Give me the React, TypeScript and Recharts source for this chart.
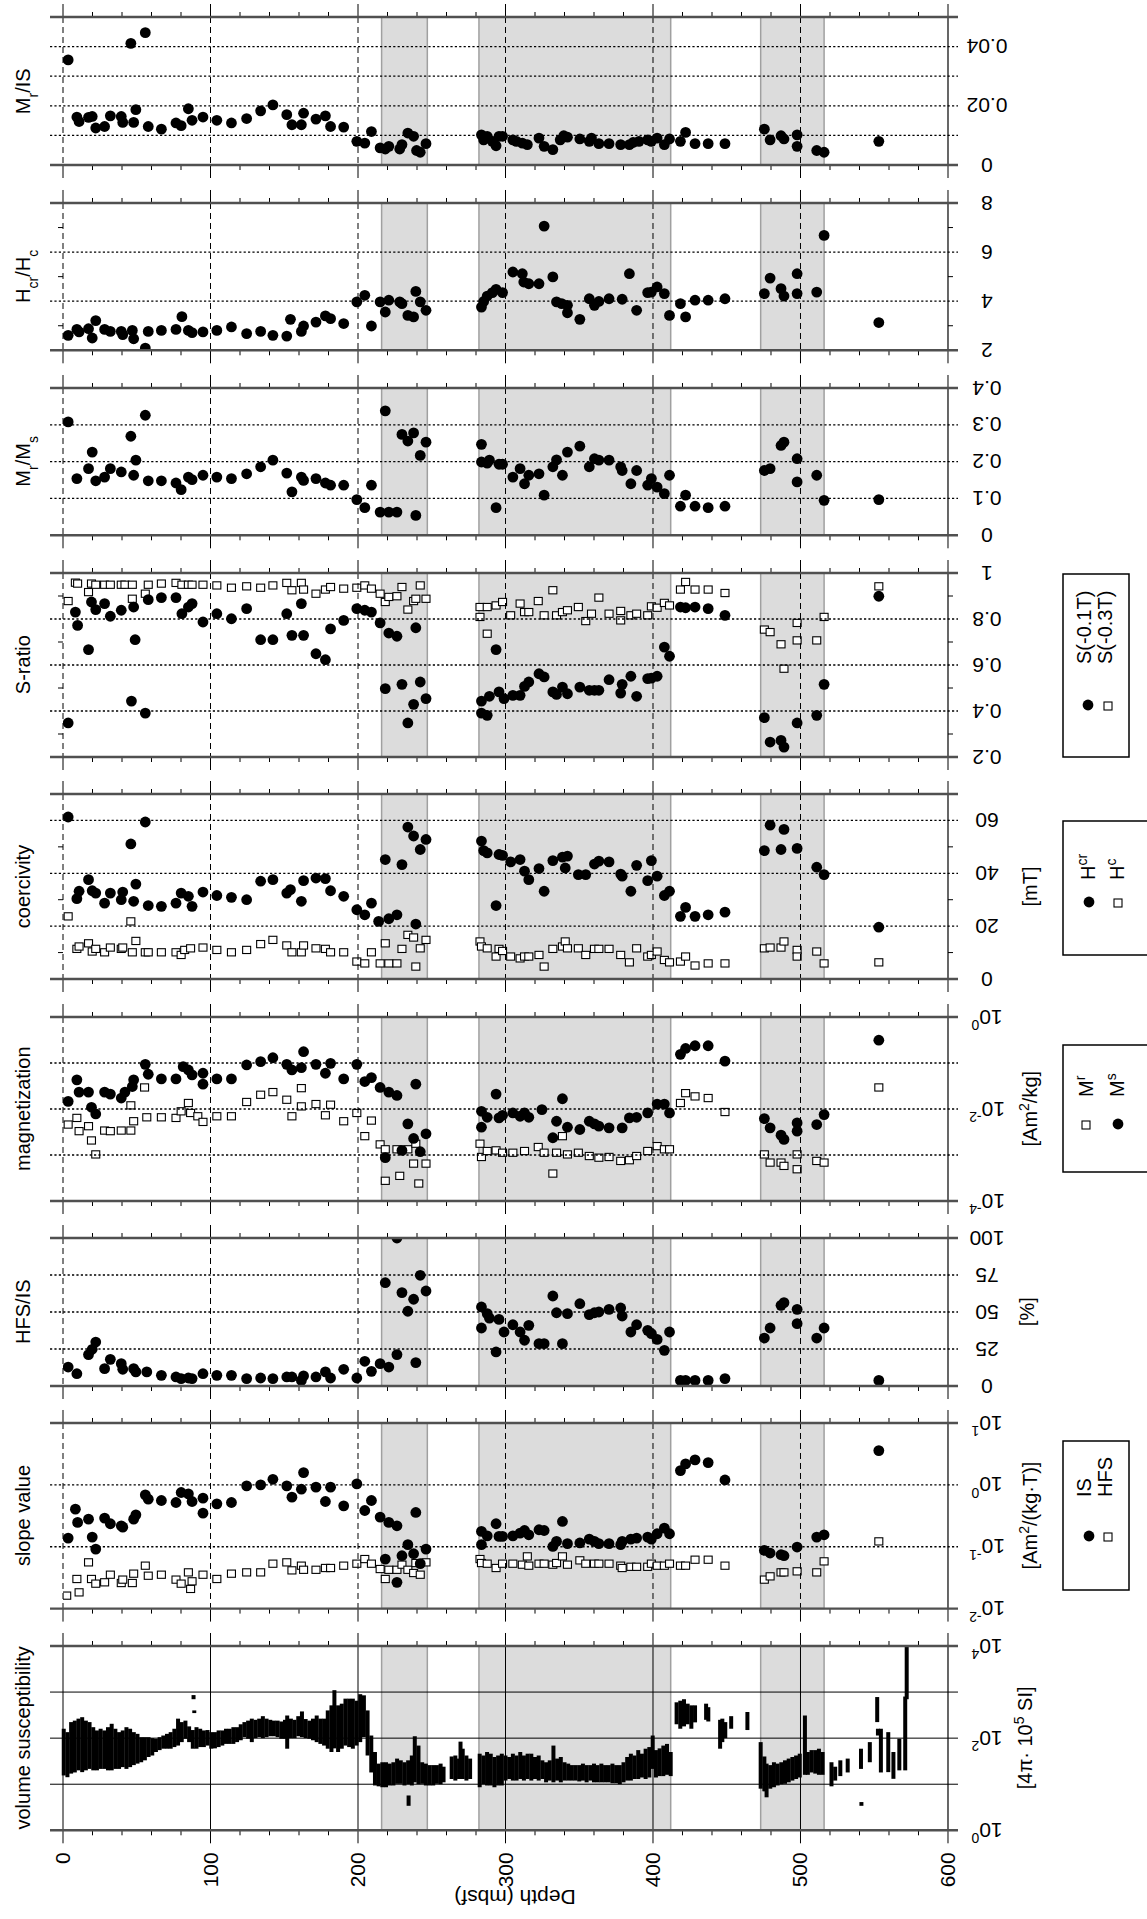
import React from "react";
import { ScatterChart, Scatter, XAxis, YAxis, ReferenceArea, ErrorBar } from "recharts";

const FONT = '"Liberation Sans", Arial, Helvetica, sans-serif';
const PAGE_W = 1147;
const PAGE_H = 1919;
const X0 = 63;
const X1 = 948;

// shaded depth intervals (mbsf)
const bands: [number, number][] = [[216, 247], [282, 412], [473, 516]];
const depthTicks = [0, 20, 40, 60, 80, 100, 120, 140, 160, 180, 200, 220, 240, 260, 280, 300, 320, 340, 360, 380, 400, 420, 440, 460, 480, 500, 520, 540, 560, 580, 600];

// [depth, value]
const mrIs: [number, number][] = [[3.5,0.0355],[9.4,0.0162],[10.9,0.0147],[17.3,0.0161],[19.8,0.0164],[22.2,0.0125],[28.2,0.013],[32.1,0.0166],[39.5,0.0164],[40.5,0.0144],[46,0.0411],[47.9,0.0144],[49.4,0.0187],[55.8,0.0447],[57.8,0.013],[66.7,0.0121],[76.6,0.0142],[80.1,0.0133],[85,0.019],[87.5,0.0151],[94.9,0.0162],[104.3,0.0151],[114.2,0.0142],[124.5,0.0157],[134,0.0183],[142.3,0.0203],[151.7,0.017],[155.2,0.0136],[161.6,0.0136],[163.1,0.0175],[171.5,0.0155],[177.9,0.0166],[181.4,0.013],[190.3,0.0128],[199.2,0.008],[204.6,0.0074],[209.1,0.0113],[215,0.0058],[218.5,0.0054],[220.9,0.0063],[228.3,0.0054],[229.8,0.0069],[233.8,0.0108],[237.7,0.0097],[239.7,0.0049],[242.2,0.0043],[246.1,0.0072],[283.7,0.0102],[285.2,0.0085],[287.6,0.0097],[291.1,0.008],[293.6,0.0065],[295.6,0.0097],[298,0.0097],[305,0.0085],[307.4,0.008],[311.4,0.0074],[314.8,0.0069],[322.7,0.0091],[326.2,0.0063],[332.1,0.0052],[337.1,0.0085],[339.5,0.0099],[342,0.0094],[350.4,0.0088],[356.8,0.008],[358.3,0.0091],[363.3,0.0072],[370.2,0.0072],[378.1,0.0069],[384,0.0069],[386.5,0.0076],[390.5,0.008],[396.4,0.0085],[398.9,0.008],[402.8,0.0091],[407.7,0.0069],[411.2,0.0088],[418.6,0.008],[422.1,0.011],[428.5,0.0072],[437.4,0.0072],[448.8,0.0072],[475.5,0.0121],[479.4,0.0085],[486.8,0.0099],[488.8,0.0088],[497.7,0.0102],[497.7,0.0063],[511,0.0049],[516,0.0043],[553.1,0.008]];

const hcrHc: [number, number][] = [[3.5,2.61],[9.4,2.85],[10.9,2.75],[17.3,2.88],[19.8,2.5],[22.2,3.21],[28.2,2.85],[32.1,2.77],[39.5,2.77],[40.5,2.64],[47,2.81],[47.9,2.47],[55.8,2.09],[57.8,2.77],[66.7,2.81],[76.6,2.85],[80.6,3.37],[85,2.81],[87.5,2.72],[94.9,2.75],[104.3,2.81],[114.2,2.95],[124.5,2.68],[134,2.77],[142.3,2.61],[151.7,2.58],[154.2,3.26],[161.6,2.77],[163.1,2.99],[171.5,3.15],[177.9,3.4],[181.4,3.29],[190.3,3.09],[199.2,3.97],[204.6,4.24],[209.1,2.99],[215,3.97],[218.5,3.56],[220.9,4.04],[228.3,3.97],[229.8,3.9],[233.8,3.42],[237.7,3.36],[239.2,4.4],[242.2,3.97],[246.1,3.63],[283.7,3.76],[285.2,3.99],[287.6,4.21],[291.1,4.35],[293.6,4.48],[298,4.35],[305,5.19],[311.4,5.12],[312.4,4.78],[315.8,4.71],[322.7,4.71],[326.2,7.06],[332.1,4.99],[334.6,3.97],[338.1,3.9],[342,3.83],[342,3.53],[350.4,3.26],[356.8,4.1],[360.3,3.83],[363.3,3.99],[370.2,4.1],[379.1,4.08],[384,5.12],[388.9,3.63],[396.4,4.35],[398.9,4.37],[402.8,4.58],[407.7,4.31],[411.2,3.42],[418.6,3.9],[422.1,3.36],[428.5,4.04],[437.4,4.04],[448.8,4.1],[475.5,4.31],[479.4,4.94],[486.8,4.51],[488.8,4.21],[497.7,5.12],[497.7,4.31],[511,4.37],[516,6.68],[553.1,3.13]];

const mrMs: [number, number][] = [[3.5,0.308],[9.4,0.154],[17.3,0.181],[19.8,0.226],[22.2,0.148],[28.2,0.158],[32.1,0.181],[39.5,0.172],[46,0.269],[47.9,0.163],[49.4,0.204],[55.8,0.326],[57.8,0.148],[66.7,0.148],[76.6,0.142],[80.1,0.124],[85,0.158],[87.5,0.151],[94.9,0.163],[104.3,0.158],[114.2,0.154],[124.5,0.167],[134,0.186],[142.3,0.204],[151.7,0.169],[155.2,0.118],[161.6,0.158],[163.1,0.149],[171.5,0.154],[177.9,0.142],[181.4,0.136],[190.3,0.136],[199.2,0.097],[204.6,0.075],[209.1,0.136],[215,0.063],[220.9,0.063],[226.4,0.063],[218.5,0.338],[229.8,0.274],[233.8,0.256],[237.7,0.278],[239.2,0.054],[242.2,0.217],[246.1,0.253],[283.7,0.247],[283.7,0.199],[287.6,0.196],[289.1,0.204],[293.6,0.075],[295.6,0.193],[298,0.193],[305,0.158],[309.9,0.181],[312.9,0.14],[315.8,0.163],[322.7,0.167],[326.2,0.109],[332.1,0.186],[334.6,0.205],[338.6,0.163],[342,0.226],[350.4,0.242],[356.8,0.186],[360.3,0.208],[363.3,0.204],[370.2,0.204],[378.1,0.186],[379.1,0.176],[385,0.14],[388.9,0.176],[396.4,0.136],[398.9,0.154],[402.8,0.131],[407.7,0.113],[411.2,0.163],[418.6,0.079],[422.1,0.109],[428.5,0.079],[437.4,0.075],[448.8,0.079],[475.5,0.176],[479.4,0.181],[486.8,0.244],[488.8,0.253],[497.7,0.208],[497.7,0.145],[511,0.163],[516,0.095],[553.1,0.097]];

const s01: [number, number][] = [[3.5,0.348],[8.4,0.83],[9.9,0.772],[17.3,0.667],[19.3,0.874],[22.2,0.841],[28.2,0.867],[32.1,0.812],[39.5,0.838],[46.4,0.443],[47.9,0.852],[48.9,0.71],[55.8,0.391],[57.8,0.884],[66.7,0.893],[76.6,0.893],[80.6,0.823],[85,0.852],[87.5,0.867],[94.9,0.787],[104.3,0.823],[114.2,0.801],[124.5,0.845],[134,0.71],[142.3,0.71],[151.7,0.823],[155.2,0.729],[161.6,0.867],[163.1,0.729],[171.5,0.649],[177.9,0.623],[181.4,0.757],[190.3,0.794],[199.2,0.845],[204.6,0.838],[209.1,0.83],[215,0.783],[218.5,0.497],[220.9,0.739],[226.4,0.725],[229.8,0.516],[233.8,0.348],[237.7,0.429],[239.2,0.762],[242.2,0.526],[246.1,0.454],[283.7,0.443],[283.7,0.391],[287.6,0.381],[289.1,0.464],[293.6,0.667],[295.6,0.483],[299,0.454],[305,0.468],[309.9,0.468],[312.9,0.507],[315.8,0.526],[322.7,0.562],[326.2,0.548],[332.1,0.483],[334.6,0.472],[338.6,0.504],[342,0.475],[350.4,0.504],[356.8,0.49],[360.3,0.49],[363.3,0.49],[370.2,0.536],[378.1,0.478],[379.1,0.516],[385,0.551],[388.9,0.464],[396.4,0.541],[398.9,0.543],[402.8,0.551],[407.7,0.678],[411.2,0.638],[418.6,0.852],[422.1,0.849],[428.5,0.852],[437.4,0.845],[448.8,0.816],[475.5,0.371],[479.4,0.265],[486.8,0.272],[488.8,0.243],[497.7,0.348],[511,0.381],[516,0.516],[553.1,0.899]];

const s03: [number, number][] = [[3.5,0.878],[8.4,0.958],[9.9,0.954],[17.3,0.917],[19.3,0.954],[22.2,0.949],[28.2,0.949],[32.1,0.949],[39.5,0.949],[42,0.949],[47,0.949],[47,0.888],[55.8,0.91],[57.8,0.949],[66.7,0.954],[76.6,0.957],[80.6,0.949],[85,0.949],[87.5,0.949],[94.9,0.949],[104.3,0.946],[114.2,0.936],[124.5,0.942],[134,0.936],[142.3,0.946],[151.7,0.957],[155.2,0.925],[161.6,0.957],[163.1,0.928],[171.5,0.91],[177.9,0.928],[181.4,0.939],[190.3,0.932],[199.2,0.936],[204.6,0.946],[209.1,0.932],[215,0.91],[218.5,0.874],[220.9,0.896],[226.4,0.899],[229.8,0.939],[233.8,0.841],[237.7,0.878],[239.2,0.888],[242.2,0.946],[246.1,0.888],[282.7,0.852],[282.7,0.809],[287.6,0.852],[287.6,0.736],[293.6,0.859],[298,0.874],[303.5,0.816],[309.9,0.867],[312.9,0.83],[315.8,0.83],[322.2,0.878],[326.2,0.816],[332.1,0.925],[334.6,0.816],[338.6,0.83],[342,0.838],[349.4,0.852],[354.4,0.791],[358.3,0.823],[363.3,0.893],[370.2,0.823],[378.1,0.835],[378.1,0.794],[385,0.816],[388.9,0.823],[396.4,0.816],[398.9,0.855],[402.8,0.849],[407.7,0.87],[411.2,0.859],[418.6,0.928],[422.1,0.961],[428.5,0.928],[437.4,0.928],[448.8,0.913],[475.5,0.754],[479.4,0.743],[486.8,0.69],[488.8,0.584],[497.7,0.707],[497.7,0.783],[511,0.707],[516,0.809],[553.1,0.942]];

const hcr: [number, number][] = [[3.5,61.3],[9.4,30.4],[10.9,33.2],[17.3,37.6],[19.8,33.4],[22.2,32.5],[28.2,28.7],[32.1,32.5],[39.5,30],[40.5,32.9],[46,51.1],[47.9,29.4],[49.4,35.9],[55.8,59.4],[57.8,27.8],[66.7,27.5],[76.6,28.7],[80.1,32.5],[85,31.3],[87.5,27.5],[94.9,32.9],[104.3,31.6],[114.2,30.9],[124.5,30],[134,37],[142.3,37.6],[151.7,32.5],[154.2,33.8],[161.6,29.4],[163.1,37.2],[171.5,38.2],[177.9,38],[181.4,33.4],[190.3,31.3],[199.2,26.2],[204.6,24.3],[209.1,28.7],[214,21.8],[218.5,45.2],[220.9,22.8],[226.4,24.3],[229.8,43.3],[233.8,57.5],[237.7,54.1],[239.2,20.8],[242.2,49],[246.1,52.8],[283.7,52.2],[285.2,48.6],[287.6,47.7],[293.6,27.8],[295.6,47.1],[298,46.8],[303.5,44.3],[309.9,45.2],[312.9,40.8],[315.8,37.6],[322.7,41.8],[326.2,33.2],[332.1,44.8],[338.6,46.1],[340.5,42],[342,46.5],[349.4,39.5],[354.4,39.5],[360.3,43.5],[363.3,44.6],[370.2,44.3],[378.1,39.7],[379.1,38.9],[385,33.2],[388.9,43],[396.4,37.2],[398.9,44.8],[402.8,38.9],[407.7,31.6],[411.2,33.2],[418.6,23.7],[422.1,27.1],[428.5,23.7],[437.4,24.3],[448.8,25.3],[475.5,48.6],[479.4,58.2],[486.8,49],[488.8,56.6],[497.7,49.4],[511,42.3],[516,39.5],[553.1,19.6]];

const hc: [number, number][] = [[3.5,23.7],[9.4,11.4],[10.9,12.3],[17.3,13.5],[19.8,10.4],[22.2,11.4],[28.2,10.1],[32.1,11.9],[39.5,11.4],[40.5,11.9],[46,21.8],[47,10.1],[49.4,14.4],[55.8,10.1],[57.8,10.1],[66.7,10.1],[76.6,10.1],[80.1,9.1],[82.5,11],[86.5,11.6],[94.9,11.9],[104.3,11],[114.2,10.1],[124.5,11],[134,13.2],[142.3,14.8],[151.7,12.7],[155.2,10.1],[161.6,10.1],[163.1,12.7],[171.5,11.6],[177.9,11.4],[181.4,10.1],[190.3,10.1],[199.2,6.6],[204.6,5.9],[209.1,10.1],[215,5.9],[218.5,13.5],[220.9,5.9],[226.4,5.9],[229.8,11.4],[233.8,16.7],[237.7,15.7],[239.2,4.7],[242.2,11.6],[246.1,14.8],[282.7,14.2],[283.7,12.3],[287.6,11.6],[293.6,8.5],[295.6,11.4],[298,10.6],[303.5,8.5],[309.9,7.8],[312.9,8.5],[315.8,8.5],[322.7,9.1],[326.2,4.7],[332.1,11.4],[338.6,12.3],[340.5,14.2],[342,11.6],[349.4,11.6],[354.4,9.1],[360.3,11.4],[363.3,11.4],[370.2,11.4],[378.1,9.1],[384,6.3],[388.9,11.6],[396.4,8.5],[398.9,9.1],[402.8,10.4],[407.7,7.2],[411.2,6.3],[418.6,6.6],[422.1,8.5],[428.5,5.1],[437.4,5.9],[448.8,5.9],[475.5,11.6],[479.4,11.9],[486.8,11.9],[488.8,14.2],[497.7,11],[497.7,8.5],[511,10.4],[516,5.9],[553.1,6.3]];

const ms: [number, number][] = [[3.5,0.0146],[9.4,0.043],[10.9,0.0233],[17.3,0.0233],[19.3,0.0109],[22.2,0.0078],[28.2,0.0233],[32.1,0.0211],[39.5,0.0173],[42,0.0233],[47,0.0308],[47.9,0.043],[55.8,0.0936],[57.8,0.0569],[66.7,0.0451],[76.6,0.0451],[81.5,0.0834],[85,0.0706],[87.5,0.0551],[94.9,0.0347],[94.9,0.0598],[104.3,0.0451],[114.2,0.0451],[124.5,0.0906],[134,0.107],[142.3,0.13],[151.7,0.0936],[155.2,0.0706],[161.6,0.0793],[163.1,0.176],[171.5,0.0936],[177.9,0.0598],[181.4,0.0984],[190.3,0.0451],[199.2,0.0936],[204.6,0.0395],[209.1,0.0482],[215,0.0294],[220.9,0.0233],[226.4,0.0197],[218.5,0.000875],[229.8,0.00126],[233.8,0.00475],[237.7,0.00229],[239.2,0.0347],[242.2,0.00118],[246.1,0.00289],[283.7,0.00891],[283.7,0.00402],[287.6,0.0066],[293.6,0.0211],[295.6,0.0064],[298,0.0073],[305,0.0082],[309.9,0.00695],[312.9,0.0082],[315.8,0.0066],[324.7,0.0097],[332.1,0.00237],[334.6,0.00542],[338.6,0.0167],[342,0.00402],[350.4,0.00358],[356.8,0.00542],[360.3,0.00475],[363.3,0.00423],[370.2,0.00389],[379.1,0.00389],[384,0.0064],[388.9,0.0066],[396.4,0.0082],[402.8,0.0128],[407.7,0.0128],[411.2,0.0082],[418.6,0.154],[422.1,0.207],[428.5,0.237],[437.4,0.237],[448.8,0.11],[475.5,0.00618],[479.4,0.00389],[486.8,0.0027],[488.8,0.00218],[497.7,0.00499],[497.7,0.0033],[511,0.00459],[516,0.00755],[553.1,0.313]];

const mr: [number, number][] = [[3.5,0.00459],[9.4,0.0064],[10.9,0.0033],[17.3,0.00423],[19.3,0.00207],[22.2,0.00103],[28.2,0.0034],[32.1,0.0033],[39.5,0.0034],[46,0.0034],[46,0.012],[47.9,0.00542],[55.3,0.0294],[56.8,0.0066],[66.7,0.0066],[76.6,0.0064],[80.1,0.00891],[85,0.0135],[86.5,0.0082],[91.4,0.00695],[94.9,0.00524],[104.3,0.00695],[114.2,0.00695],[124.5,0.0142],[134,0.0204],[142.3,0.0233],[151.7,0.0159],[155.2,0.00695],[161.6,0.0284],[161.6,0.0114],[171.5,0.0128],[177.9,0.0073],[181.4,0.0124],[190.3,0.00542],[199.2,0.0082],[204.6,0.00257],[209.1,0.0056],[215,0.0017],[218.5,0.00133],[218.5,0.000275],[226.4,0.00133],[228.3,0.000352],[233.8,0.00133],[237.7,0.00065],[239.2,0.00176],[241.2,0.00024],[246.1,0.00065],[282.7,0.00176],[283.7,0.000906],[287.6,0.00122],[293.6,0.00126],[298,0.00112],[305,0.00112],[312.9,0.00122],[322.2,0.00149],[326.2,0.00112],[332.1,0.000395],[334.6,0.00112],[338.6,0.00257],[342,0.00103],[349.4,0.00112],[356.8,0.00095],[363.3,0.000875],[370.2,0.000906],[378.1,0.000743],[384,0.00077],[388.9,0.00095],[396.4,0.00122],[402.8,0.00156],[407.7,0.00133],[411.2,0.00133],[418.6,0.0135],[422.1,0.0221],[428.5,0.0188],[437.4,0.0173],[448.8,0.0086],[475.5,0.00103],[479.4,0.000684],[486.8,0.000684],[488.8,0.00058],[497.7,0.00103],[497.7,0.00049],[511,0.000743],[516,0.000684],[553.1,0.0294]];

const hfsIs: [number, number][] = [[3.5,12.8],[9.4,8.3],[17.3,21.2],[19.8,24.8],[22.2,29.7],[28.2,11.7],[32.1,18],[39.5,15.1],[40.5,11.3],[47.9,11.7],[49.4,9.5],[56.8,9.5],[66.7,7.2],[76.6,6.1],[80.1,5],[85,5.4],[87.5,5],[94.9,8.3],[104.3,7.2],[114.2,7.2],[124.5,5],[134,5.4],[142.3,5],[151.7,6.1],[155.2,6.1],[161.6,3.8],[163.1,6.8],[171.5,6.1],[177.9,9.5],[181.4,5.4],[190.3,11.3],[199.2,5.4],[204.6,16.7],[209.1,9.9],[215,15.1],[218.5,69.8],[220.9,12.8],[226.4,100],[226.4,21.2],[229.8,63.1],[233.8,50.5],[237.7,58.6],[239.2,15.8],[242.2,74.8],[246.1,64.2],[283.7,53.4],[283.7,39.2],[287.6,48.9],[289.1,45.9],[293.6,23],[295.6,45],[299,36.5],[305,41.4],[309.9,36.5],[312.9,30.9],[315.8,41],[322.7,28.6],[326.2,28.6],[332.1,60.8],[334.6,49.5],[338.6,28.6],[342,48.9],[350.4,55.6],[356.8,48.2],[360.3,49.5],[363.3,50],[370.2,51.8],[378.1,52.7],[379.1,47.3],[385,36.5],[388.9,41.4],[396.4,37.6],[398.9,35.4],[402.8,31.5],[407.7,24.1],[411.2,36.5],[418.6,3.8],[422.1,3.8],[428.5,3.8],[437.4,3.8],[448.8,5],[475.5,32.4],[479.4,39.2],[486.8,54.5],[488.8,56.3],[497.7,51.8],[497.7,42.1],[511,32.4],[516,39.2],[553.1,3.8]];

const isSlope: [number, number][] = [[3.5,0.138],[8.4,0.405],[9.9,0.247],[17.3,0.279],[19.8,0.143],[22.2,0.0917],[28.2,0.29],[32.1,0.235],[39.5,0.218],[40.5,0.207],[47.9,0.279],[49.4,0.328],[55.8,0.69],[57.8,0.587],[66.7,0.559],[76.6,0.519],[80.1,0.752],[85,0.716],[87.5,0.538],[94.9,0.349],[94.9,0.61],[104.3,0.494],[114.2,0.519],[124.5,0.964],[134,1],[142.3,1.23],[151.7,0.964],[155.2,0.632],[161.6,0.851],[163.1,1.58],[171.5,0.917],[177.9,0.538],[181.4,0.917],[190.3,0.458],[199.2,1.04],[204.6,0.385],[209.1,0.559],[215,0.301],[220.9,0.247],[226.4,0.218],[218.5,0.0632],[226.4,0.0266],[229.8,0.0716],[233.8,0.108],[237.7,0.0771],[239.2,0.358],[242.2,0.0532],[246.1,0.0917],[283.7,0.177],[283.7,0.108],[287.6,0.15],[293.6,0.235],[295.6,0.147],[298,0.147],[305,0.15],[309.9,0.166],[312.9,0.183],[315.8,0.156],[322.7,0.188],[326.2,0.183],[332.1,0.101],[334.6,0.122],[338.6,0.256],[342,0.112],[350.4,0.115],[356.8,0.133],[360.3,0.122],[363.3,0.112],[370.2,0.112],[378.1,0.108],[379.1,0.122],[385,0.133],[388.9,0.138],[396.4,0.143],[398.9,0.133],[402.8,0.162],[407.7,0.2],[411.2,0.162],[418.6,1.7],[422.1,2.18],[428.5,2.53],[437.4,2.29],[448.8,1.2],[475.5,0.0873],[479.4,0.0791],[486.8,0.0743],[488.8,0.0716],[497.7,0.0988],[511,0.143],[516,0.156],[553.1,3.58]];

const hfsSlope: [number, number][] = [[2.5,0.0162],[9.4,0.0301],[10.9,0.0183],[17.3,0.0559],[19.3,0.0301],[22.2,0.0253],[28.2,0.0266],[32.1,0.0353],[39.5,0.0259],[40.5,0.0294],[47,0.0259],[47.9,0.0367],[55.8,0.0494],[57.8,0.034],[66.7,0.0353],[76.6,0.0294],[80.1,0.0253],[85,0.0385],[86.5,0.0208],[87.5,0.0276],[94.9,0.0353],[104.3,0.0301],[114.2,0.0367],[124.5,0.0385],[134,0.0385],[142.3,0.0532],[151.7,0.0559],[155.2,0.0415],[161.6,0.0494],[163.1,0.0424],[171.5,0.0424],[177.9,0.0453],[181.4,0.0453],[190.3,0.0494],[199.2,0.0532],[204.6,0.0632],[209.1,0.0532],[215,0.0436],[218.5,0.0301],[220.9,0.0424],[226.4,0.0424],[229.8,0.0513],[233.8,0.0424],[237.7,0.0376],[239.2,0.0545],[242.2,0.0353],[246.1,0.0559],[282.7,0.0632],[283.7,0.0545],[287.6,0.0532],[293.6,0.0453],[298,0.0532],[305,0.0532],[311.4,0.0513],[314.8,0.0698],[315.8,0.0494],[322.7,0.0532],[326.2,0.0532],[332.1,0.0513],[334.6,0.0545],[338.6,0.0698],[342,0.0513],[350.4,0.0602],[354.4,0.0532],[360.3,0.0532],[363.3,0.0532],[370.2,0.0532],[378.1,0.0494],[379.1,0.0453],[385,0.0474],[388.9,0.0474],[396.4,0.0474],[398.9,0.0532],[402.8,0.0494],[407.7,0.0494],[411.2,0.0532],[418.6,0.0494],[422.1,0.0494],[428.5,0.0617],[437.4,0.0617],[448.8,0.0494],[475.5,0.0294],[479.4,0.0332],[486.8,0.0385],[488.8,0.0385],[497.7,0.04],[511,0.0385],[516,0.058],[553.1,0.122]];

// volume susceptibility: [depth, low, high] of the plotted measurement band
const kappa: [number, number, number][] = [[0.5,15.5,160],[3,14.2,135],[5.5,17,223],[8,18,240],[10.5,20,265],[13,18.3,285],[15.5,20,240],[18,21.5,223],[20.5,20,173],[23,20,147],[25.5,21.5,160],[28,21.5,147],[30.5,20,173],[33,20,205],[35.5,21.5,160],[38,21.5,135],[40.5,23.5,147],[43,21.5,173],[45.5,23.5,160],[48,26,135],[50.5,28,124],[53,30,105],[55.5,33,105],[58,39,105],[60.5,42,100],[63,50,97],[65.5,55,105],[68,59,114],[70.5,59,124],[73,59,135],[75.5,64,160],[78,69,265],[80.5,82,223],[83,97,240],[85.5,82,180],[88,59,150],[88.5,700,860],[89,350,400],[90.5,59,173],[93,64,160],[95.5,64,147],[98,69,150],[100.5,59,135],[103,60,135],[105.5,64,147],[108,69,147],[110.5,75,160],[113,75,160],[115.5,75,173],[118,82,173],[120.5,90,200],[123,105,223],[125.5,97,240],[128,82,265],[130.5,100,250],[133,105,265],[135.5,100,300],[138,105,265],[140.5,110,250],[143,110,240],[145.5,105,240],[148,97,230],[150.5,97,250],[152,59,310],[154.5,100,265],[157,100,250],[159.5,110,300],[162,105,380],[164.5,100,260],[167,97,240],[169.5,90,265],[172,82,310],[174.5,75,265],[177,69,265],[179.5,59,400],[182,50,515],[184,60,1100],[186.5,50,515],[189,59,560],[191.5,69,720],[194,64,720],[196.5,59,720],[199,69,650],[201.5,82,900],[204,105,850],[206.5,42,400],[209,18,114],[211.5,9.4,50],[214,9,28],[216.5,8.6,30],[219,8.6,30],[221.5,9.4,28],[224,9.4,30],[226.5,10.2,36],[229,10.2,33],[231.5,9.4,30],[234,10,33],[234.3,3.4,5.7],[236.5,9.4,42],[238.5,11,110],[241,10,69],[243.5,10.2,30],[246,9.4,28],[248.5,9.4,26],[251,9.4,26],[253.5,10.2,26],[256,10,28],[258,11,24],[263.5,13,40],[266,12,42],[268.5,13,36],[269.5,13,84],[271,13,59],[273.5,12,42],[276,13,36],[282.5,8.6,46],[285,10,42],[287.5,9.4,50],[290,9.4,46],[292.5,8.6,39],[295,9.4,42],[297.5,9.4,46],[300,12,42],[302.5,13,39],[305,12,46],[307.5,12,42],[310,13,50],[312.5,12,42],[315,13,46],[317.5,12,46],[320,13,39],[322.5,12,42],[325,13,33],[327.5,11,30],[330,12,33],[332.5,11,69],[335,12,36],[337.5,11,39],[340,12,30],[342.5,12,28],[345,12,26],[347.5,12,26],[350,11.5,26],[352.5,12,28],[355,11,26],[357.5,12,26],[360,11,28],[362.5,11,26],[365,11,28],[367.5,11,26],[370,11,26],[372.5,10.5,28],[375,10.5,26],[377.5,10,26],[380,11,30],[382.5,12,39],[385,12,46],[387.5,13,42],[390,13,55],[392.5,14,46],[395,13,59],[397.5,14,64],[399.8,21.5,114],[402,14,55],[404.5,15,60],[407,15,69],[409.5,16,75],[412,15,50],[416,200,600],[418.5,160,650],[421,180,700],[423.5,200,560],[426,160,515],[428.5,220,515],[436,250,560],[437.5,230,470],[445.5,59,250],[447,82,265],[449,100,223],[453,160,300],[464,150,370],[473,8,82],[475.5,7,40],[477,5.2,28],[479.5,8,26],[482,8.6,30],[484.5,9.4,28],[487,10,30],[489.5,10.2,33],[492,11,36],[494.5,12,39],[497,13,42],[499.5,14,46],[503,16,310],[505,16,50],[507.5,18,55],[510,17,55],[512.5,16,59],[515,16,50],[521,9,30],[523.5,12,24],[527,15,33],[532,18,36],[541,21.5,59],[541.3,3.4,4.1],[547,30,82],[552,223,780],[552.5,114,160],[554.5,18,160],[559.5,18.3,135],[563,13.1,50],[567,20,97],[571,20,800],[572,700,10000]];

type Lab = { v: number; t: string; sup?: string };
type Series = { data: [number, number][]; mark: "dot" | "box" };
type Panel = {
  id: string;
  top: number;
  bottom: number;
  domain: [number, number];
  log?: boolean;
  solid?: boolean;
  grid: number[];
  minor: number[];
  labels: Lab[];
  series: Series[];
};

const panels: Panel[] = [
  { id: "mris", top: 17.3, bottom: 165.3, domain: [0, 0.05], grid: [0.01, 0.02, 0.03, 0.04], minor: [],
    labels: [{ v: 0, t: "0" }, { v: 0.02, t: "0.02" }, { v: 0.04, t: "0.04" }], series: [{ data: mrIs, mark: "dot" }] },
  { id: "hcrhc", top: 202.7, bottom: 350, domain: [2, 8], grid: [4, 6], minor: [3, 5, 7],
    labels: [{ v: 2, t: "2" }, { v: 4, t: "4" }, { v: 6, t: "6" }, { v: 8, t: "8" }], series: [{ data: hcrHc, mark: "dot" }] },
  { id: "mrms", top: 387.7, bottom: 535, domain: [0, 0.4], grid: [0.1, 0.2, 0.3], minor: [],
    labels: [{ v: 0, t: "0" }, { v: 0.1, t: "0.1" }, { v: 0.2, t: "0.2" }, { v: 0.3, t: "0.3" }, { v: 0.4, t: "0.4" }], series: [{ data: mrMs, mark: "dot" }] },
  { id: "sratio", top: 572.7, bottom: 756.7, domain: [0.2, 1], grid: [0.4, 0.6, 0.8], minor: [0.3, 0.5, 0.7, 0.9],
    labels: [{ v: 0.2, t: "0.2" }, { v: 0.4, t: "0.4" }, { v: 0.6, t: "0.6" }, { v: 0.8, t: "0.8" }, { v: 1, t: "1" }],
    series: [{ data: s03, mark: "box" }, { data: s01, mark: "dot" }] },
  { id: "coerc", top: 794, bottom: 979, domain: [0, 70], grid: [20, 40, 60], minor: [10, 30, 50],
    labels: [{ v: 0, t: "0" }, { v: 20, t: "20" }, { v: 40, t: "40" }, { v: 60, t: "60" }],
    series: [{ data: hc, mark: "box" }, { data: hcr, mark: "dot" }] },
  { id: "magn", top: 1016.7, bottom: 1200.7, domain: [1e-4, 1], log: true, grid: [1e-3, 1e-2, 1e-1], minor: [],
    labels: [{ v: 1e-4, t: "10", sup: "-4" }, { v: 1e-2, t: "10", sup: "-2" }, { v: 1, t: "10", sup: "0" }],
    series: [{ data: mr, mark: "box" }, { data: ms, mark: "dot" }] },
  { id: "hfsis", top: 1237.7, bottom: 1385.7, domain: [0, 100], grid: [25, 50, 75], minor: [],
    labels: [{ v: 0, t: "0" }, { v: 25, t: "25" }, { v: 50, t: "50" }, { v: 75, t: "75" }, { v: 100, t: "100" }],
    series: [{ data: hfsIs, mark: "dot" }] },
  { id: "slope", top: 1422.7, bottom: 1608.3, domain: [0.01, 10], log: true, grid: [0.1, 1], minor: [],
    labels: [{ v: 0.01, t: "10", sup: "-2" }, { v: 0.1, t: "10", sup: "-1" }, { v: 1, t: "10", sup: "0" }, { v: 10, t: "10", sup: "1" }],
    series: [{ data: hfsSlope, mark: "box" }, { data: isSlope, mark: "dot" }] },
  { id: "kappa", top: 1645.7, bottom: 1830, domain: [1, 10000], log: true, solid: true, grid: [10, 100, 1000], minor: [],
    labels: [{ v: 1, t: "10", sup: "0" }, { v: 100, t: "10", sup: "2" }, { v: 10000, t: "10", sup: "4" }], series: [] },
];

const same = (a: number, b: number) => Math.abs(a - b) <= Math.abs(b) * 1e-6 + 1e-12;

const Dot = (p: any) => <circle cx={p.cx} cy={p.cy} r={5.4} fill="#000" />;
const Box = (p: any) => <rect x={p.cx - 4} y={p.cy - 3.6} width={8} height={7.2} fill="#fff" stroke="#000" strokeWidth={1.1} />;
const NoMark = () => <g />;

function yTick(props: any, p: Panel) {
  const { y, payload } = props;
  const v = payload.value as number;
  const edge = same(v, p.domain[0]) || same(v, p.domain[1]);
  const grid = p.grid.some((g) => same(g, v));
  const lab = p.labels.find((l) => same(l.v, v));
  return (
    <g>
      {edge && <line x1={X0 - 13} x2={X1 + 10} y1={y} y2={y} stroke="#505050" strokeWidth={2.4} />}
      {grid && (
        <line x1={X0 - 13} x2={X1 + 10} y1={y} y2={y} stroke="#000" strokeWidth={p.solid ? 1 : 1.3}
          strokeDasharray={p.solid ? undefined : "2.2 2.2"} />
      )}
      {!edge && !grid && (
        <g stroke="#000" strokeWidth={1}>
          <line x1={X0 - 5} x2={X0} y1={y} y2={y} />
          <line x1={X1} x2={X1 + 5} y1={y} y2={y} />
        </g>
      )}
      {lab && (
        <text x={987} y={y} transform={`rotate(180 987 ${y})`} textAnchor="middle" dominantBaseline="central"
          fontFamily={FONT} fontSize={21} fill="#000">
          {lab.t}
          {lab.sup && <tspan baselineShift="super" fontSize={14}>{lab.sup}</tspan>}
        </text>
      )}
    </g>
  );
}

function xTick(props: any, p: Panel, last: boolean) {
  const { x, y, payload } = props;
  const v = payload.value as number;
  const top = y - (p.bottom - p.top);
  const major = v % 100 === 0;
  const ext = major ? 13 : 5;
  return (
    <g>
      <line x1={x} x2={x} y1={top - ext} y2={top} stroke="#000" strokeWidth={1} />
      <line x1={x} x2={x} y1={y} y2={y + ext} stroke="#000" strokeWidth={1} />
      {major && (
        <line x1={x} x2={x} y1={top} y2={y} stroke="#000" strokeWidth={v === 600 ? 1.2 : 1}
          strokeDasharray={v === 600 || p.solid ? undefined : "6 4"} />
      )}
      {last && major && (
        <text x={x + 7} y={y + 22} transform={`rotate(-90 ${x + 7} ${y + 22})`} textAnchor="end"
          fontFamily={FONT} fontSize={21} fill="#000">
          {v}
        </text>
      )}
    </g>
  );
}

function PanelChart({ p, last }: { p: Panel; last: boolean }) {
  const mt = 16;
  const mb = last ? 80 : 16;
  const h = p.bottom - p.top;
  const yTicks = [p.domain[0], ...p.grid, ...p.minor, p.domain[1]].sort((a, b) => a - b);
  const kappaRows = kappa.map(([d, lo, hi]) => ({ d, v: hi, err: [hi - lo, 0] }));
  return (
    <div style={{ position: "absolute", left: 0, top: p.top - mt }}>
      <ScatterChart width={PAGE_W} height={h + mt + mb}
        margin={{ top: mt, right: PAGE_W - X1 - 1, bottom: mb - 1, left: X0 }}>
        {bands.map(([a, b]) => (
          <ReferenceArea key={a} x1={a} x2={b} fill="#dcdcdc" fillOpacity={1} stroke="#a0a0a0" strokeWidth={1.5} />
        ))}
        <XAxis dataKey="d" type="number" domain={[0, 600]} ticks={depthTicks} interval={0} allowDataOverflow
          height={1} axisLine={false} tickLine={false} tickSize={0} tickMargin={0}
          tick={(t: any) => xTick(t, p, last)} />
        <YAxis dataKey="v" type="number" orientation="right" scale={p.log ? "log" : "linear"} domain={p.domain}
          ticks={yTicks} interval={0} allowDataOverflow width={1} axisLine={false} tickLine={false}
          tickSize={0} tickMargin={0} tick={(t: any) => yTick(t, p)} />
        {p.id === "kappa" && (
          <Scatter data={kappaRows} isAnimationActive={false} shape={NoMark}>
            <ErrorBar dataKey="err" direction="y" width={0} stroke="#000" strokeWidth={4} isAnimationActive={false} />
          </Scatter>
        )}
        {p.series.map((s, i) => (
          <Scatter key={i} data={s.data.map(([d, v]) => ({ d, v }))} isAnimationActive={false}
            shape={s.mark === "dot" ? Dot : Box} />
        ))}
      </ScatterChart>
    </div>
  );
}

const rot = (x: number, y: number, a: number) => `rotate(${a} ${x} ${y})`;

function VText({ x, y, children, size = 20, anchor = "middle" }: any) {
  return (
    <text x={x} y={y} transform={rot(x, y, -90)} textAnchor={anchor} fontFamily={FONT} fontSize={size} fill="#000">
      {children}
    </text>
  );
}

const sub = (s: string) => <tspan baselineShift="sub" fontSize={14}>{s}</tspan>;
const sup = (s: string) => <tspan baselineShift="super" fontSize={14}>{s}</tspan>;
const mid = (i: number) => (panels[i].top + panels[i].bottom) / 2;

export default function App() {
  return (
    <div style={{ position: "absolute", left: 0, top: 0, width: PAGE_W, height: PAGE_H, background: "#fff", overflow: "hidden" }}>
      {panels.map((p, i) => (
        <PanelChart key={p.id} p={p} last={i === panels.length - 1} />
      ))}
      <svg width={PAGE_W} height={PAGE_H} style={{ position: "absolute", left: 0, top: 0, pointerEvents: "none" }}>
        {/* panel titles */}
        <VText x={30} y={mid(0)}>M{sub("r")}/IS</VText>
        <VText x={30} y={mid(1)}>H{sub("cr")}/H{sub("c")}</VText>
        <VText x={30} y={mid(2)}>M{sub("r")}/M{sub("s")}</VText>
        <VText x={30} y={mid(3)}>S-ratio</VText>
        <VText x={30} y={mid(4)}>coercivity</VText>
        <VText x={30} y={mid(5)}>magnetization</VText>
        <VText x={30} y={mid(6)}>HFS/IS</VText>
        <VText x={30} y={mid(7)}>slope value</VText>
        <VText x={30} y={mid(8)}>volume susceptibility</VText>
        {/* units */}
        <VText x={1037} y={mid(4)}>[mT]</VText>
        <VText x={1037} y={mid(5)}>[Am{sup("2")}/kg]</VText>
        <VText x={1034} y={mid(6)}>[%]</VText>
        <VText x={1037} y={mid(7)}>[Am{sup("2")}/(kg·T)]</VText>
        <VText x={1032} y={mid(8)}>[4π· 10{sup("5")} SI]</VText>
        {/* depth axis title */}
        <text x={515} y={1897} transform={rot(515, 1897, 180)} textAnchor="middle" dominantBaseline="central"
          fontFamily={FONT} fontSize={21}>Depth (mbsf)</text>
        {/* legends */}
        <g>
          <rect x={1063} y={574} width={66} height={183} fill="#fff" stroke="#000" strokeWidth={1.5} />
          <VText x={1091} y={664} anchor="start">S(-0.1T)</VText>
          <VText x={1112} y={664} anchor="start">S(-0.3T)</VText>
          <circle cx={1088} cy={705} r={5.4} fill="#000" />
          <rect x={1104} y={702} width={8} height={8} fill="#fff" stroke="#000" strokeWidth={1.1} />
        </g>
        <g>
          <rect x={1063} y={821} width={100} height={134} fill="#fff" stroke="#000" strokeWidth={1.5} />
          <VText x={1095} y={880} anchor="start">H{sup("cr")}</VText>
          <VText x={1124} y={880} anchor="start">H{sup("c")}</VText>
          <circle cx={1089} cy={902} r={5.4} fill="#000" />
          <rect x={1114} y={899} width={8} height={8} fill="#fff" stroke="#000" strokeWidth={1.1} />
        </g>
        <g>
          <rect x={1063} y={1045} width={100} height={127} fill="#fff" stroke="#000" strokeWidth={1.5} />
          <VText x={1093} y={1097} anchor="start">M{sup("r")}</VText>
          <VText x={1124} y={1097} anchor="start">M{sup("s")}</VText>
          <rect x={1082} y={1121} width={8} height={8} fill="#fff" stroke="#000" strokeWidth={1.1} />
          <circle cx={1118} cy={1124} r={5.4} fill="#000" />
        </g>
        <g>
          <rect x={1063} y={1441} width={66} height={149} fill="#fff" stroke="#000" strokeWidth={1.5} />
          <VText x={1091} y={1497} anchor="start">IS</VText>
          <VText x={1112} y={1497} anchor="start">HFS</VText>
          <circle cx={1089} cy={1536} r={5.4} fill="#000" />
          <rect x={1104} y={1533} width={8} height={8} fill="#fff" stroke="#000" strokeWidth={1.1} />
        </g>
      </svg>
    </div>
  );
}
